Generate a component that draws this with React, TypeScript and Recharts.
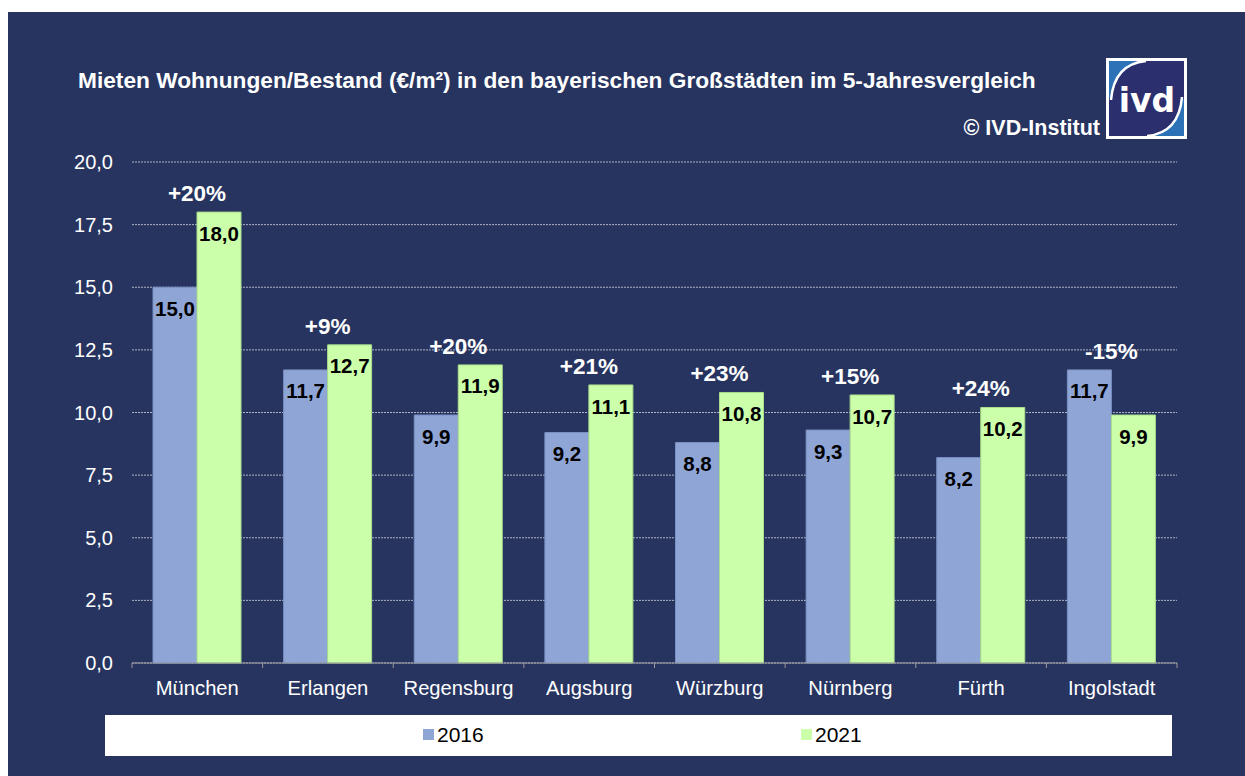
import * as React from 'react'
import { BarChart, Bar, XAxis, YAxis, CartesianGrid, LabelList, Legend } from 'recharts'

const cities = ['München', 'Erlangen', 'Regensburg', 'Augsburg', 'Würzburg', 'Nürnberg', 'Fürth', 'Ingolstadt']
const rent2016 = [15.0, 11.7, 9.9, 9.2, 8.8, 9.3, 8.2, 11.7]
const rent2021 = [18.0, 12.7, 11.9, 11.1, 10.8, 10.7, 10.2, 9.9]
const changeLabels = ['+20%', '+9%', '+20%', '+21%', '+23%', '+15%', '+24%', '-15%']
const yTicks = [0, 2.5, 5, 7.5, 10, 12.5, 15, 17.5, 20]
const seriesNames = ['2016', '2021']

const data = cities.map((city, i) => ({ city, v2016: rent2016[i], v2021: rent2021[i] }))

const NAVY = '#27345F'
const BLUE = '#8FA5D6'
const GREEN = '#CCFFAA'
const FONT = 'Arial, "Liberation Sans", Helvetica, sans-serif'

const W = 1245
const H = 776
const plotLeft = 132
const plotRight = 1177
const band = (plotRight - plotLeft) / cities.length

const fmt = (v: any) => Number(v).toFixed(1).replace('.', ',')

function CityTick(props: any) {
  const { x, y, payload, index } = props
  const axisY = y - 8
  return (
    <g>
      <line x1={x - band / 2} x2={x - band / 2} y1={axisY} y2={axisY + 5} stroke="#9A9A9A" />
      {index === cities.length - 1 && (
        <line x1={x + band / 2} x2={x + band / 2} y1={axisY} y2={axisY + 5} stroke="#9A9A9A" />
      )}
      <text x={x} y={y + 24} textAnchor="middle" fill="#fff" fontSize={20.2} fontFamily={FONT}>
        {payload.value}
      </text>
    </g>
  )
}

function ChangeLabel(props: any) {
  const vb = props.viewBox && props.viewBox.height != null ? props.viewBox : props
  const { x, y, height } = vb
  const i = props.index
  const base = y + height
  const pxPerUnit = height / rent2021[i]
  const top = base - Math.max(rent2016[i], rent2021[i]) * pxPerUnit
  return (
    <text x={x} y={top - 11} textAnchor="middle" fill="#fff" fontSize={22.5} fontWeight="bold" fontFamily={FONT}>
      {changeLabels[i]}
    </text>
  )
}

function LegendBox() {
  return (
    <div style={{ width: 1067, height: 41, background: '#fff', position: 'relative', fontFamily: FONT }}>
      <div style={{ position: 'absolute', left: 318, top: 14, width: 11, height: 11, background: BLUE }} />
      <div style={{ position: 'absolute', left: 332, top: 8, fontSize: 21, color: '#000', lineHeight: '24px' }}>{seriesNames[0]}</div>
      <div style={{ position: 'absolute', left: 696, top: 14, width: 11, height: 11, background: GREEN }} />
      <div style={{ position: 'absolute', left: 710, top: 8, fontSize: 21, color: '#000', lineHeight: '24px' }}>{seriesNames[1]}</div>
    </div>
  )
}

function Logo() {
  return (
    <svg width={81} height={81} style={{ position: 'absolute', left: 1106, top: 58 }}>
      <rect x={0} y={0} width={81} height={81} fill="#fff" />
      <rect x={3} y={3} width={75} height={75} fill="#2C2F6E" />
      <path d="M3 3 H40 Q10 8 6 40 L3 40 Z" fill="#2B72B6" />
      <path d="M78 78 H41 Q71 73 75 41 L78 41 Z" fill="#2B72B6" />
      <path d="M40 3 Q8 6 5 42" stroke="#fff" strokeWidth={2.5} fill="none" />
      <path d="M41 78 Q73 75 76 39" stroke="#fff" strokeWidth={2.5} fill="none" />
      <text x={41} y={54} textAnchor="middle" fill="#fff" fontSize={33} fontWeight="bold" fontFamily='"DejaVu Sans", sans-serif'>
        ivd
      </text>
    </svg>
  )
}

export default function App(): React.ReactElement {
  return (
    <div style={{ position: 'relative', width: W, height: H, background: '#fff', fontFamily: FONT, overflow: 'hidden' }}>
      <style>{'body{margin:0;overflow:hidden}'}</style>
      <div style={{ position: 'absolute', left: 8, top: 12, right: 0, bottom: 0, background: NAVY }} />
      <div style={{ position: 'absolute', left: 78, top: 67, color: '#fff', fontSize: 22.7, fontWeight: 'bold', whiteSpace: 'nowrap' }}>
        Mieten Wohnungen/Bestand (€/m²) in den bayerischen Großstädten im 5-Jahresvergleich
      </div>
      <div style={{ position: 'absolute', right: W - 1100, top: 116, color: '#fff', fontSize: 21.5, fontWeight: 'bold', whiteSpace: 'nowrap' }}>
        © IVD-Institut
      </div>
      <Logo />
      <div style={{ position: 'absolute', left: 0, top: 0 }}>
        <BarChart
          width={W}
          height={H}
          data={data}
          margin={{ top: 162, right: W - plotRight, bottom: 73, left: 0 }}
          barGap={0}
        >
          <CartesianGrid vertical={false} stroke="#AEB3C4" strokeDasharray="2 1" />
          <XAxis
            dataKey="city"
            height={40}
            axisLine={{ stroke: '#9A9A9A' }}
            tickLine={false}
            interval={0}
            tick={<CityTick />}
          />
          <YAxis
            width={plotLeft}
            domain={[0, 20]}
            ticks={yTicks}
            tickFormatter={fmt}
            axisLine={false}
            tickLine={false}
            tickMargin={13}
            tick={{ fill: '#fff', fontSize: 20, fontFamily: FONT }}
          />
          <Legend
            verticalAlign="middle"
            align="center"
            layout="horizontal"
            wrapperStyle={{ left: 105, top: 715, width: 1067, height: 41 }}
            content={() => <LegendBox />}
          />
          <Bar dataKey="v2016" name={seriesNames[0]} fill={BLUE} stroke="#7B90C4" barSize={44} isAnimationActive={false}>
            <LabelList dataKey="v2016" position="insideTop" offset={14} formatter={fmt} fill="#000" fontSize={20.5} fontWeight="bold" fontFamily={FONT} />
          </Bar>
          <Bar dataKey="v2021" name={seriesNames[1]} fill={GREEN} stroke="#A9DC8C" barSize={44} isAnimationActive={false}>
            <LabelList dataKey="v2021" position="insideTop" offset={14} formatter={fmt} fill="#000" fontSize={20.5} fontWeight="bold" fontFamily={FONT} />
            <LabelList dataKey="v2021" content={<ChangeLabel />} />
          </Bar>
        </BarChart>
      </div>
    </div>
  )
}
